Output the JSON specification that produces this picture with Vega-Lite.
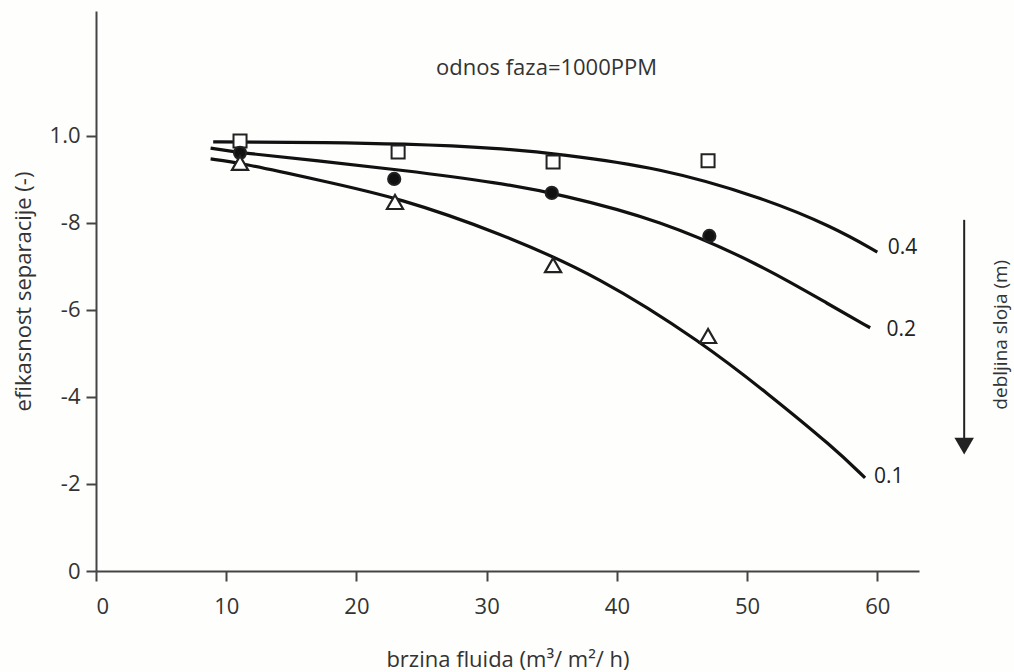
{
  "$schema": "https://vega.github.io/schema/vega-lite/v6.json",
  "width": 823,
  "height": 560,
  "autosize": {"type": "none"},
  "padding": {"left": 96, "top": 11, "right": 95, "bottom": 101},
  "background": "#fefefd",
  "config": {
    "view": {"stroke": null},
    "font": "Open Sans",
    "axis": {"grid": false, "domainColor": "#444", "domainWidth": 2, "tickColor": "#444", "tickWidth": 2, "tickSize": 10, "labelFont": "Open Sans", "labelFontSize": 22, "labelColor": "#333", "titleFont": "Open Sans", "titleFontSize": 22, "titleFontWeight": "normal", "titleColor": "#333"}
  },
  "datasets": {
    "curves": [
      {"x": 9.0, "y": 0.986, "s": "0.4"}, {"x": 11.8, "y": 0.986, "s": "0.4"}, {"x": 17.5, "y": 0.985, "s": "0.4"}, {"x": 23.35, "y": 0.982, "s": "0.4"}, {"x": 31.0, "y": 0.972, "s": "0.4"}, {"x": 35.6, "y": 0.958, "s": "0.4"}, {"x": 43.3, "y": 0.927, "s": "0.4"}, {"x": 51.0, "y": 0.860, "s": "0.4"}, {"x": 56.6, "y": 0.791, "s": "0.4"}, {"x": 60.0, "y": 0.733, "s": "0.4"},
      {"x": 8.8, "y": 0.972, "s": "0.2"}, {"x": 11.06, "y": 0.961, "s": "0.2"}, {"x": 17.0, "y": 0.943, "s": "0.2"}, {"x": 23.35, "y": 0.922, "s": "0.2"}, {"x": 31.0, "y": 0.892, "s": "0.2"}, {"x": 35.6, "y": 0.866, "s": "0.2"}, {"x": 43.3, "y": 0.807, "s": "0.2"}, {"x": 51.0, "y": 0.705, "s": "0.2"}, {"x": 56.6, "y": 0.607, "s": "0.2"}, {"x": 59.45, "y": 0.559, "s": "0.2"},
      {"x": 8.8, "y": 0.947, "s": "0.1"}, {"x": 11.06, "y": 0.938, "s": "0.1"}, {"x": 17.0, "y": 0.899, "s": "0.1"}, {"x": 23.35, "y": 0.857, "s": "0.1"}, {"x": 31.0, "y": 0.777, "s": "0.1"}, {"x": 38.7, "y": 0.676, "s": "0.1"}, {"x": 46.6, "y": 0.524, "s": "0.1"}, {"x": 51.5, "y": 0.410, "s": "0.1"}, {"x": 56.6, "y": 0.285, "s": "0.1"}, {"x": 59.06, "y": 0.214, "s": "0.1"}
    ],
    "points": [
      {"x": 11.06, "y": 0.988, "s": "0.4"}, {"x": 23.2, "y": 0.963, "s": "0.4"}, {"x": 35.1, "y": 0.94, "s": "0.4"}, {"x": 47.0, "y": 0.943, "s": "0.4"},
      {"x": 11.06, "y": 0.961, "s": "0.2"}, {"x": 22.9, "y": 0.901, "s": "0.2"}, {"x": 35.0, "y": 0.869, "s": "0.2"}, {"x": 47.1, "y": 0.770, "s": "0.2"}
    ],
    "tri": [
      {"x": 11.06, "y": 0.938}, {"x": 22.96, "y": 0.848}, {"x": 35.1, "y": 0.703}, {"x": 47.0, "y": 0.540}
    ],
    "labels": [
      {"x": 60.8, "y": 0.743, "t": "0.4"}, {"x": 60.7, "y": 0.554, "t": "0.2"}, {"x": 59.75, "y": 0.216, "t": "0.1"}
    ],
    "note": [{"x": 34.6, "y": 1.157, "t": "odnos faza=1000PPM"}],
    "arrow": [{"x": 66.67, "y": 0.807, "y2": 0.30}],
    "head": [{"x": 66.67, "y": 0.287}],
    "side": [{"x": 69.5, "y": 0.543, "t": "debljina sloja (m)"}]
  },
  "layer": [
    {
      "data": {"name": "curves"},
      "mark": {"type": "line", "interpolate": "basis", "color": "#111", "strokeWidth": 3.2},
      "encoding": {
        "x": {"field": "x", "type": "quantitative", "scale": {"domain": [0, 63.2], "nice": false, "zero": false},
          "axis": {"values": [0, 10, 20, 30, 40, 50, 60], "title": "brzina fluida (m³/ m²/ h)", "labelPadding": 15, "titlePadding": 32}},
        "y": {"field": "y", "type": "quantitative", "scale": {"domain": [0, 1.287], "nice": false, "zero": false},
          "axis": {"values": [0, 0.2, 0.4, 0.6, 0.8, 1.0], "title": "efikasnost separacije (-)", "labelPadding": 6, "titlePadding": 14,
            "labelExpr": "datum.value == 0 ? '0' : (datum.value > 0.99 ? '1.0' : '-' + round(datum.value * 10))"}},
        "detail": {"field": "s"}
      }
    },
    {
      "data": {"name": "points"},
      "mark": {"type": "point", "strokeWidth": 2, "stroke": "#222", "opacity": 1},
      "encoding": {
        "x": {"field": "x", "type": "quantitative"},
        "y": {"field": "y", "type": "quantitative"},
        "shape": {"field": "s", "type": "nominal", "scale": {"domain": ["0.4", "0.2"], "range": ["square", "circle"]}, "legend": null},
        "fill": {"field": "s", "type": "nominal", "scale": {"domain": ["0.4", "0.2"], "range": ["white", "#111"]}, "legend": null},
        "size": {"field": "s", "type": "nominal", "scale": {"domain": ["0.4", "0.2"], "range": [170, 150]}, "legend": null}
      }
    },
    {
      "data": {"name": "tri"},
      "mark": {"type": "point", "shape": "triangle-up", "size": 260, "strokeWidth": 2.2, "stroke": "#222", "fill": "white", "filled": false, "opacity": 1},
      "encoding": {"x": {"field": "x", "type": "quantitative"}, "y": {"field": "y", "type": "quantitative"}}
    },
    {
      "data": {"name": "labels"},
      "mark": {"type": "text", "align": "left", "baseline": "middle", "fontSize": 21, "color": "#222"},
      "encoding": {"x": {"field": "x", "type": "quantitative"}, "y": {"field": "y", "type": "quantitative"}, "text": {"field": "t"}}
    },
    {
      "data": {"name": "note"},
      "mark": {"type": "text", "align": "center", "baseline": "middle", "fontSize": 22, "color": "#333"},
      "encoding": {"x": {"field": "x", "type": "quantitative"}, "y": {"field": "y", "type": "quantitative"}, "text": {"field": "t"}}
    },
    {
      "data": {"name": "arrow"},
      "mark": {"type": "rule", "color": "#222", "strokeWidth": 2},
      "encoding": {"x": {"field": "x", "type": "quantitative"}, "y": {"field": "y", "type": "quantitative"}, "y2": {"field": "y2"}}
    },
    {
      "data": {"name": "head"},
      "mark": {"type": "point", "shape": "triangle-down", "filled": true, "color": "#222", "size": 380, "opacity": 1},
      "encoding": {"x": {"field": "x", "type": "quantitative"}, "y": {"field": "y", "type": "quantitative"}}
    },
    {
      "data": {"name": "side"},
      "mark": {"type": "text", "align": "center", "baseline": "middle", "angle": 270, "fontSize": 19, "color": "#333"},
      "encoding": {"x": {"field": "x", "type": "quantitative"}, "y": {"field": "y", "type": "quantitative"}, "text": {"field": "t"}}
    }
  ]
}
